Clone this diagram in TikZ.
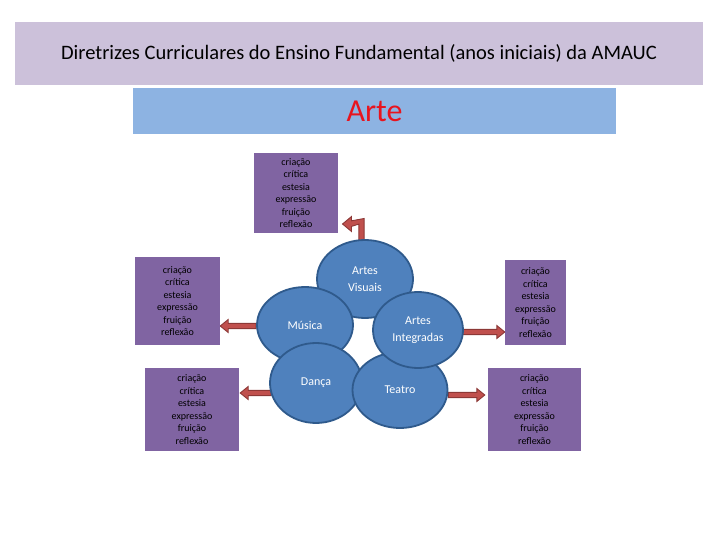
\documentclass[tikz,border=0pt]{standalone}
\usepackage{fontspec}
\setmainfont{Carlito}
\usetikzlibrary{shapes.geometric,calc,backgrounds}
\definecolor{titlefill}{HTML}{CCC1DA}
\definecolor{artefill}{HTML}{8DB3E2}
\definecolor{artered}{HTML}{E8141E}
\definecolor{boxpurple}{HTML}{8064A2}
\definecolor{ellfill}{HTML}{4F81BD}
\definecolor{elldraw}{HTML}{2F5A8C}
\definecolor{arrfill}{HTML}{C0504D}
\definecolor{arrdraw}{HTML}{8C3836}
\tikzset{
  purplebox/.style={fill=boxpurple, inner sep=0pt, align=center,
    font=\fontsize{10}{12.5}\selectfont, text=black},
  areaell/.style={ellipse, fill=ellfill, draw=elldraw, line width=1.8pt,
    inner sep=0pt, align=center, text=white,
    font=\fontsize{12}{17}\selectfont},
  blockarr/.style={fill=arrfill, draw=arrdraw, line width=0.9pt, line join=miter}
}
\newcommand\blockarrow[2]{%
  \coordinate (ba-h) at ($(#2)!8pt!(#1)$);
  \filldraw[blockarr] ($(#1)!2.6pt!90:(#2)$) -- ($(ba-h)!2.6pt!90:(#2)$)
    -- ($(ba-h)!6.5pt!90:(#2)$) -- (#2) -- ($(ba-h)!6.5pt!-90:(#2)$)
    -- ($(ba-h)!2.6pt!-90:(#2)$) -- ($(#1)!2.6pt!-90:(#2)$) -- cycle;}
\newcommand\crittext{criação\\crítica\\estesia\\expressão\\fruição\\reflexão}
\begin{document}
\begin{tikzpicture}[x=1pt,y=-1pt]
\useasboundingbox (0,0) rectangle (720,540);
% title
\node[fill=titlefill, minimum width=688pt, minimum height=63pt, inner sep=0pt,
  font=\fontsize{20.5}{22}\selectfont] (title) at (359,53.5)
  {Diretrizes Curriculares do Ensino Fundamental (anos iniciais) da AMAUC};
\node[fill=artefill, minimum width=483pt, minimum height=46pt, inner sep=0pt,
  text=artered, font=\fontsize{32}{34}\selectfont] (arte) at (374.5,111) {Arte};
% purple boxes
\node[purplebox, minimum width=84pt, minimum height=80pt] (top) at (296,193) {\crittext};
\node[purplebox, minimum width=85pt, minimum height=88pt] (lt) at (177.5,301) {\crittext};
\node[purplebox, minimum width=94pt, minimum height=83pt] (lb) at (192,409.5) {\crittext};
\node[purplebox, minimum width=61pt, minimum height=85pt] (rt) at (535.5,302.5) {\crittext};
\node[purplebox, minimum width=93pt, minimum height=83pt] (rb) at (534.5,409.5) {\crittext};
% ellipses
\node[areaell, minimum width=96pt, minimum height=78pt] (vis) at (365,279) {Artes\\Visuais};
\node[areaell, minimum width=96pt, minimum height=76pt] (mus) at (305,325) {Música};
\node[areaell, minimum width=92pt, minimum height=80pt] (dan) at (316,383) {Dança};
\node[areaell, minimum width=95pt, minimum height=76pt] (tea) at (400,390) {Teatro};
\node[areaell, minimum width=90pt, minimum height=76pt] (int) at (418,330) {Artes\\Integradas};
% arrows
\begin{pgfonlayer}{background}
  \coordinate (lt-t) at ($(mus.west)+(0,1)$);
  \coordinate (lt-h) at (lt.east |- lt-t);
  \blockarrow{lt-t}{lt-h}
  \coordinate (lb-t) at ($(dan.west)+(2,10)$);
  \coordinate (lb-h) at ($(lb.east |- lb-t)+(1,0)$);
  \blockarrow{lb-t}{lb-h}
  \coordinate (rt-t) at ($(int.east)+(-2,2)$);
  \coordinate (rt-h) at (rt.west |- rt-t);
  \blockarrow{rt-t}{rt-h}
  \coordinate (rb-t) at ($(tea.east)+(0,5)$);
  \coordinate (rb-h) at ($(rb.west |- rb-t)+(-3,0)$);
  \blockarrow{rb-t}{rb-h}
  % bent arrow from Artes Visuais up and left toward the top box
  \coordinate (ba-s) at ($(vis.north)+(-3.5,4)$);
  \filldraw[blockarr] ($(ba-s)+(2.6,0)$) -- ($(ba-s)+(2.6,-24.6)$)
    -- (351.5,220.8) -- (351.5,216.5) -- (342.5,224) -- (351.5,231.5)
    -- (351.5,226.4) -- ($(ba-s)+(-2.6,-19)$) -- ($(ba-s)+(-2.6,0)$) -- cycle;
\end{pgfonlayer}
\end{tikzpicture}
\end{document}
